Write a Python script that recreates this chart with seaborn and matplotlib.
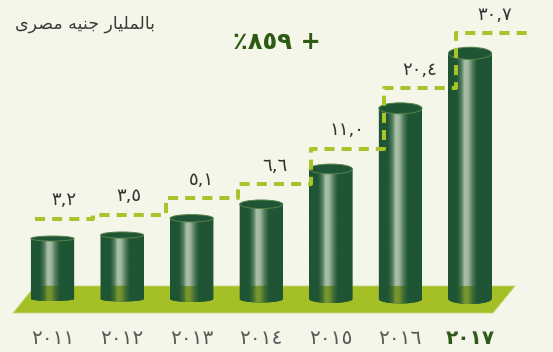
import numpy as np
import pandas as pd
import matplotlib
matplotlib.use("Agg")
import matplotlib.pyplot as plt
import seaborn as sns
from matplotlib.patches import Ellipse, Polygon, PathPatch
from matplotlib.path import Path
from matplotlib.transforms import IdentityTransform, blended_transform_factory

# ---- data -------------------------------------------------------------
years = [2011, 2012, 2013, 2014, 2015, 2016, 2017]
values = [3.2, 3.5, 5.1, 6.6, 11.0, 20.4, 30.7]
unit_label = "بالمليار جنيه مصرى"

# ---- colours ----------------------------------------------------------
BG = "#f5f6ea"
DARK = "#1f5534"
TOP_EDGE = "#56824c"
FLOOR = "#a4c026"
DASH = "#a7c42a"
HL_GREEN = np.array([172, 194, 168]) / 255
HL_OLIVE = np.array([124, 152, 46]) / 255
DARK_RGB = np.array([31, 85, 52]) / 255

AR_DIGITS = str.maketrans("0123456789", "٠١٢٣٤٥٦٧٨٩")


def ar_num(s):
    return s.translate(AR_DIGITS)


# isolated, final, initial, medial presentation forms
FORMS = {
    "ب": ("\uFE8F", "\uFE90", "\uFE91", "\uFE92"),
    "ا": ("\uFE8D", "\uFE8E", None, None),
    "ل": ("\uFEDD", "\uFEDE", "\uFEDF", "\uFEE0"),
    "م": ("\uFEE1", "\uFEE2", "\uFEE3", "\uFEE4"),
    "ي": ("\uFEF1", "\uFEF2", "\uFEF3", "\uFEF4"),
    "ر": ("\uFEAD", "\uFEAE", None, None),
    "ج": ("\uFE9D", "\uFE9E", "\uFE9F", "\uFEA0"),
    "ن": ("\uFEE5", "\uFEE6", "\uFEE7", "\uFEE8"),
    "ه": ("\uFEE9", "\uFEEA", "\uFEEB", "\uFEEC"),
    "ص": ("\uFEB9", "\uFEBA", "\uFEBB", "\uFEBC"),
    "ى": ("\uFEEF", "\uFEF0", None, None),
}


def shape_arabic(text):
    """Join letters with their contextual forms and lay them out right-to-left."""
    out = []
    for i, ch in enumerate(text):
        if ch not in FORMS:
            out.append(ch)
            continue
        prev = text[i - 1] if i > 0 else None
        nxt = text[i + 1] if i + 1 < len(text) else None
        iso, fin, ini, med = FORMS[ch]
        joins_prev = prev in FORMS and FORMS[prev][2] is not None
        joins_next = nxt in FORMS and ini is not None
        if joins_prev and joins_next:
            out.append(med)
        elif joins_prev:
            out.append(fin)
        elif joins_next:
            out.append(ini)
        else:
            out.append(iso)
    return "".join(reversed(out))


# ---- value axis: compressed power scale ------------------------------
P = 0.62


def fwd(v):
    v = np.asarray(v, float)
    return np.sign(v) * np.abs(v) ** P


def inv(u):
    u = np.asarray(u, float)
    return np.sign(u) * np.abs(u) ** (1 / P)


YLIM = (float(inv(-1.803)), float(inv(10.17)))
XLIM = (-0.7545, 7.193)

sns.set_theme(style="white")
plt.rcParams["font.family"] = ["DejaVu Sans"]

fig = plt.figure(figsize=(5.53, 3.52), dpi=100, facecolor=BG)
ax = fig.add_axes([0, 0, 1, 1])
ax.set_facecolor(BG)

df = pd.DataFrame({"year": [ar_num(str(y)) for y in years], "value": values})
sns.barplot(data=df, x="year", y="value", color=DARK, saturation=1,
            width=0.62, linewidth=0, errorbar=None, ax=ax, zorder=2)
bars = list(ax.patches)

ax.set_yscale("function", functions=(fwd, inv))
ax.set_xlim(*XLIM)
ax.set_ylim(*YLIM)
ax.axis("off")

fig.canvas.draw()
to_disp = ax.transData
to_data = ax.transData.inverted()
blend = blended_transform_factory(ax.transData, ax.transAxes)

# ground plane
floor_top, floor_bot = 66 / 352, 39 / 352
ax.add_patch(Polygon([(-0.2515, floor_top), (6.647, floor_top),
                      (6.331, floor_bot), (-0.568, floor_bot)],
                     closed=True, facecolor=FLOOR, edgecolor="#c4d77a",
                     lw=0.6, transform=blend, zorder=1))
floor_top_px = ax.transAxes.transform((0, floor_top))[1]


def shading(ncols, nrows, split_row):
    t = np.linspace(0, 1, ncols)
    a = np.interp(t, [0, 0.2, 0.3, 0.38, 0.46, 0.56, 0.66, 1],
                     [0, 0, 0.35, 1.0, 0.9, 0.35, 0, 0])
    img = np.empty((nrows, ncols, 3))
    for r in range(nrows):
        hl = HL_OLIVE if r >= split_row else HL_GREEN
        img[r] = DARK_RGB[None, :] * (1 - a[:, None]) + hl[None, :] * a[:, None]
    return img


tops = []
for i, bar in enumerate(bars):
    x0, w, v = bar.get_x(), bar.get_width(), bar.get_height()
    px0, py_top = to_disp.transform((x0, v))
    px1, py_bot = to_disp.transform((x0 + w, 0))
    W = px1 - px0
    cx = (px0 + px1) / 2
    top_h = 5 + 1.2 * i
    bot_h = 4 + 1.0 * i

    th = np.linspace(np.pi, 2 * np.pi, 40)
    arc = np.column_stack([cx + W / 2 * np.cos(th), py_bot + bot_h / 2 * np.sin(th)])
    verts = np.vstack([[px0, py_top], [px0, py_bot], arc, [px1, py_top], [px0, py_top]])
    codes = [Path.MOVETO] + [Path.LINETO] * (len(verts) - 2) + [Path.CLOSEPOLY]
    body = PathPatch(Path(verts, codes), facecolor=DARK, edgecolor="none",
                     transform=IdentityTransform(), zorder=3)
    ax.add_patch(body)

    y_lo = py_bot - bot_h / 2 - 1
    y_hi = py_top
    nrows = max(int(round(y_hi - y_lo)), 2)
    split = int(round(y_hi - floor_top_px))
    img = shading(int(round(W)) * 2, nrows, split)
    im = ax.imshow(img, extent=(px0, px1, y_lo, y_hi), origin="upper",
                   transform=IdentityTransform(), aspect="auto",
                   interpolation="bilinear", zorder=4)
    im.set_clip_path(body)

    ax.add_patch(Ellipse((cx, py_top), W, top_h, facecolor=DARK,
                         edgecolor=TOP_EDGE, lw=0.7,
                         transform=IdentityTransform(), zorder=5))
    tops.append(py_top)

ax.set_xlim(*XLIM)
ax.set_ylim(*YLIM)

# dashed staircase above the bars
n = len(values)
bounds = [i + 0.58 + 0.045 * i for i in range(n - 1)]
starts = [-0.25] + bounds
ends = bounds + [6.9]
levels = [to_data.transform((0, y + 20))[1] for y in tops]
xs, ys = [], []
for s, e, L in zip(starts, ends, levels):
    xs += [s, e]
    ys += [L, L]
ax.plot(xs, ys, color=DASH, lw=2.9, dashes=(2.5, 1.75),
        dash_capstyle="butt", zorder=6)

for s, e, L, v in zip(starts, ends, levels, values):
    ax.annotate(ar_num(f"{v:.1f}".replace(".", ",")), xy=((s + e) / 2, L),
                xytext=(0, 13.5), textcoords="offset points",
                ha="center", va="center", fontsize=13, color="#333333",
                zorder=7)

# year labels
for i, y in enumerate(years):
    last = i == len(years) - 1
    ax.text(i, 14 / 352, ar_num(str(y)), transform=blend, ha="center",
            va="center", fontsize=14.5, color="#2e5a1a" if last else "#5a5a5a",
            fontweight="bold" if last else "normal")

growth = round((values[-1] / values[0] - 1) * 100)
fig.text(0.501, 0.881, "٪" + ar_num(str(growth)) + " +", ha="center",
         va="center", fontsize=17.5, fontweight="bold", color="#2e5a12")
fig.text(155 / 553, 1 - 24 / 352, shape_arabic(unit_label), ha="right",
         va="center", fontsize=12.5, color="#3a3a3a")

fig.savefig("out.png", dpi=100, facecolor=BG)
